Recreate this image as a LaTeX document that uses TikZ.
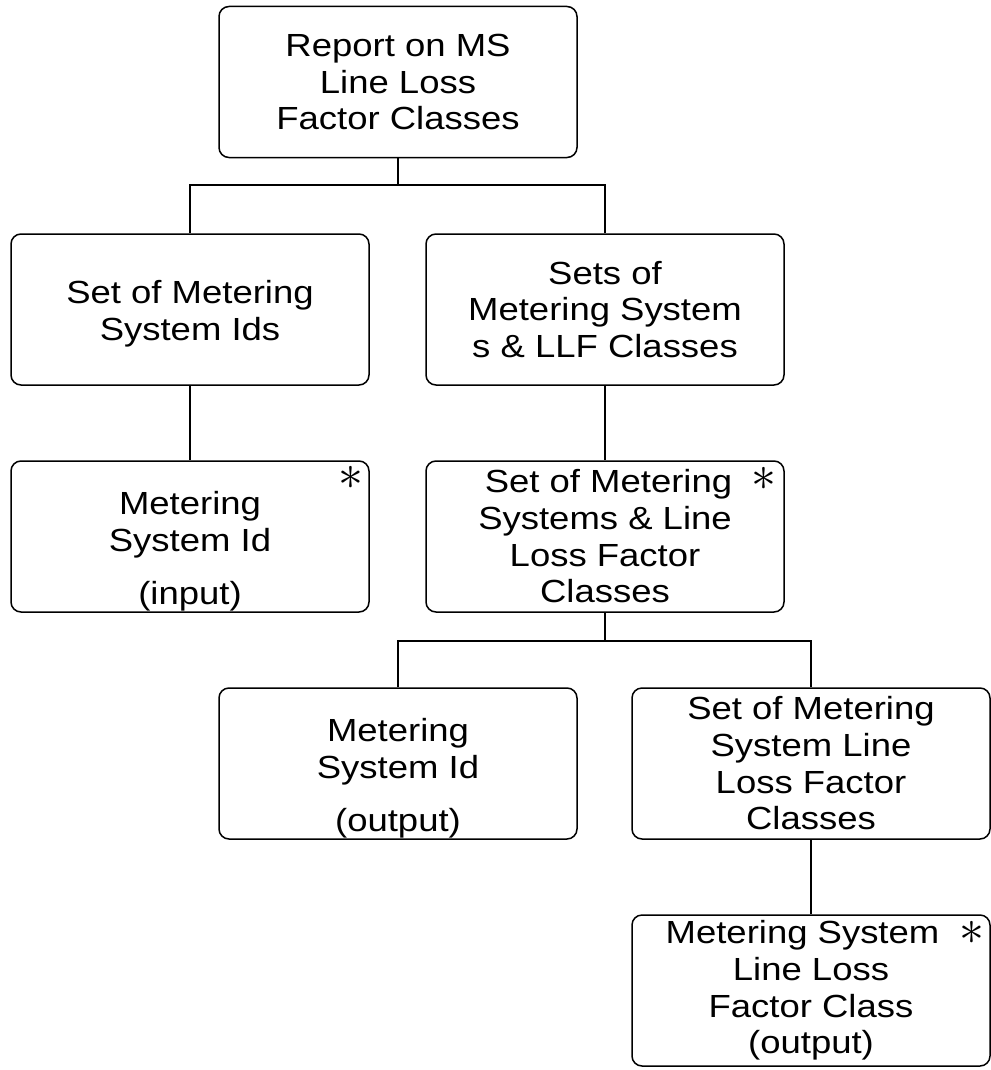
\documentclass[tikz,border=0pt]{standalone}
\usepackage{fontspec}
\setmainfont{Liberation Sans}[FakeStretch=1.14]
\usepackage{tikz}

\begin{document}
\begin{tikzpicture}[x=0.5pt,y=-0.5pt,
  box/.style={draw, line width=0.75pt, rounded corners=5pt, minimum width=179pt, minimum height=75.5pt, inner sep=0pt, align=center, font=\fontsize{16}{18.35}\selectfont},
  star/.style={inner sep=0pt, font=\fontsize{28}{28}\selectfont},
  link/.style={line width=0.75pt}]
\useasboundingbox (0,0) rectangle (990,1070);
% boxes
\node[box] (report) at (398,82) {Report on MS\\Line Loss\\Factor Classes};
\node[box] (msids) at (190,309.5) {\rule{0pt}{15.7pt}Set of Metering\\System Ids};
\node[box] (llfsets) at (605,309.5) {Sets of\\Metering System\\s \& LLF Classes};
\node[box] (msidin) at (190,536.5) {\rule{0pt}{26.5pt}Metering\\System Id\\[8pt](input)};
\node[box] (msllf) at (605,536.5) {\kern3.5pt Set of Metering\\Systems \& Line\\Loss Factor\\Classes};
\node[box] (msidout) at (398,763.5) {\rule{0pt}{26.5pt}Metering\\System Id\\[8pt](output)};
\node[box] (llfclasses) at (811,763.5) {Set of Metering\\System Line\\Loss Factor\\Classes};
\node[box] (llfclass) at (811,990.5) {Metering System\kern8.5pt\\Line Loss\\Factor Class\\(output)};
% iteration marks
\node[star] (starin) at (351,478) {$\ast$};
\node[star] (starllf) at (764,479) {$\ast$};
\node[star] (starout) at (972,933) {$\ast$};
% connectors
\coordinate (busa) at (398,185);
\coordinate (busb) at (605,641);
\draw[link] (report.south) -- (busa);
\draw[link] (msids.north) |- (busa);
\draw[link] (llfsets.north) |- (busa);
\draw[link] (msids.south) -- (msidin.north);
\draw[link] (llfsets.south) -- (msllf.north);
\draw[link] (msllf.south) -- (busb);
\draw[link] (msidout.north) |- (busb);
\draw[link] (llfclasses.north) |- (busb);
\draw[link] (llfclasses.south) -- (llfclass.north);
\end{tikzpicture}
\end{document}
